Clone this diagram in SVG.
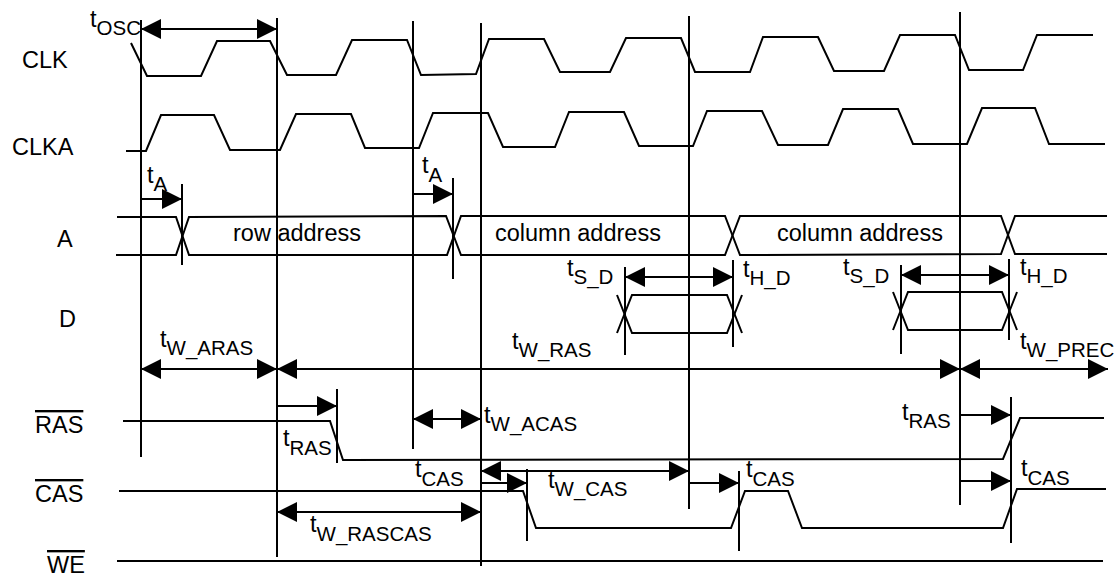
<svg xmlns="http://www.w3.org/2000/svg" width="1119" height="576" viewBox="0 0 1119 576">
<style>
.s{fill:none;stroke:#000;stroke-width:2;stroke-linejoin:miter}
.v{stroke:#000;stroke-width:2}
.a{stroke:#000;stroke-width:2;fill:none}
.ab{marker-start:url(#ah);marker-end:url(#ah)}
.ae{marker-end:url(#ah)}
text{font-family:"Liberation Sans",Arial,sans-serif;font-size:23.5px;fill:#000}
.sub{font-size:20.5px}
</style>
<defs>
<marker id="ah" markerUnits="userSpaceOnUse" markerWidth="20" markerHeight="20" refX="20" refY="10" orient="auto-start-reverse" viewBox="0 0 20 20">
<path d="M0,0 L20,10 L0,20 z" fill="#000"/>
</marker>
</defs>
<rect width="1119" height="576" fill="#fff"/>

<g id="labels">
<text x="22" y="68">CLK</text>
<text x="12" y="155">CLKA</text>
<text x="57" y="247">A</text>
<text x="59" y="327">D</text>
<text x="35" y="433" text-decoration="overline">RAS</text>
<text x="35" y="502" text-decoration="overline">CAS</text>
<text x="47" y="573" text-decoration="overline">WE</text>
</g>

<g id="sig-clk">
<polyline class="s" points="131,43 147,76 201,76 217,41 270,41 287,75 336,75 352,40 407,40 421,75 476,74 489,39 544,39 560,72 610,72 626,38 681,38 695,72 750,72 763,37 818,37 834,71 884,71 900,35 955,35 969,70 1023,70 1037,35 1093,35"/>
</g>
<g id="sig-clka">
<polyline class="s" points="126,151 146,151 161,115 214,115 230,150 280,150 296,114 351,114 365,148 419,148 433,113 488,113 503,147 555,147 569,112 624,112 639,146 693,146 707,111 762,111 778,145 828,145 843,109 898,109 913,144 967,144 982,108 1035,108 1049,144 1105,144"/>
</g>
<g id="sig-a">
<polyline class="s" points="117,217 176,217 189,255 447,255 461,216 725,216 740,255 1001,254 1015,216 1107,216"/>
<polyline class="s" points="116,255 176,255 189,217 446,216 461,255 725,255 740,216 1001,216 1015,254 1107,254"/>
<text x="233" y="241">row address</text>
<text x="495" y="241">column address</text>
<text x="777" y="241">column address</text>
</g>
<g id="sig-d">
<polyline class="s" points="617,295 632,333 727,333 742,295"/>
<polyline class="s" points="617,333 632,295 727,295 742,333"/>
<polyline class="s" points="893,292 908,330 1002,330 1017,292"/>
<polyline class="s" points="893,330 908,292 1002,292 1017,330"/>
</g>
<g id="sig-ras">
<polyline class="s" points="123,421 330,421 343,460 1003,459 1020,418 1104,418"/>
</g>
<g id="sig-cas">
<polyline class="s" points="119,491 523,491 536,528 731,528 745,491 788,491 802,528 1003,528 1017,489 1106,489"/>
</g>
<g id="sig-we">
<line class="s" x1="117" y1="561" x2="1103" y2="561"/>
</g>

<g id="refs">
<line class="v" x1="141" y1="20" x2="141" y2="457"/>
<line class="v" x1="277" y1="18" x2="277" y2="557"/>
<line class="v" x1="413" y1="21" x2="413" y2="449"/>
<line class="v" x1="481" y1="23" x2="481" y2="566"/>
<line class="v" x1="689" y1="16" x2="689" y2="509"/>
<line class="v" x1="960" y1="12" x2="960" y2="505"/>
<line class="v" x1="182" y1="184" x2="182" y2="265"/>
<line class="v" x1="453" y1="178" x2="453" y2="279"/>
<line class="v" x1="625" y1="267" x2="625" y2="355"/>
<line class="v" x1="733" y1="260" x2="733" y2="347"/>
<line class="v" x1="901" y1="265" x2="901" y2="354"/>
<line class="v" x1="1009" y1="259" x2="1009" y2="340"/>
<line class="v" x1="337" y1="389" x2="337" y2="463"/>
<line class="v" x1="527" y1="469" x2="527" y2="541"/>
<line class="v" x1="739" y1="471" x2="739" y2="551"/>
<line class="v" x1="1011" y1="397" x2="1011" y2="543"/>
</g>

<g id="connectors">
<line class="a ab" x1="141" y1="29" x2="277" y2="29"/>
<line class="a ae" x1="141" y1="199" x2="182" y2="199"/>
<line class="a ae" x1="413" y1="194" x2="453" y2="194"/>
<line class="a ab" x1="625" y1="277" x2="733" y2="277"/>
<line class="a ab" x1="901" y1="275" x2="1009" y2="275"/>
<line class="a ab" x1="141" y1="369" x2="277" y2="369"/>
<line class="a ab" x1="277" y1="369" x2="960" y2="369"/>
<line class="a ab" x1="960" y1="369" x2="1108" y2="369"/>
<line class="a ae" x1="277" y1="406" x2="337" y2="406"/>
<line class="a ab" x1="413" y1="419" x2="481" y2="419"/>
<line class="a ae" x1="481" y1="483" x2="527" y2="483"/>
<line class="a ab" x1="481" y1="471" x2="689" y2="471"/>
<line class="a ae" x1="689" y1="483" x2="739" y2="483"/>
<line class="a ab" x1="277" y1="512" x2="481" y2="512"/>
<line class="a ae" x1="960" y1="415" x2="1011" y2="415"/>
<line class="a ae" x1="960" y1="481" x2="1011" y2="481"/>
</g>

<g id="timing-labels">
<text x="90" y="27">t<tspan class="sub" dy="8">OSC</tspan></text>
<text x="147" y="183">t<tspan class="sub" dy="8">A</tspan></text>
<text x="422" y="173">t<tspan class="sub" dy="9">A</tspan></text>
<text x="567" y="276">t<tspan class="sub" dy="8">S_D</tspan></text>
<text x="743" y="277">t<tspan class="sub" dy="8">H_D</tspan></text>
<text x="843" y="275">t<tspan class="sub" dy="8">S_D</tspan></text>
<text x="1020" y="275">t<tspan class="sub" dy="8">H_D</tspan></text>
<text x="160" y="347">t<tspan class="sub" dy="8">W_ARAS</tspan></text>
<text x="512" y="349">t<tspan class="sub" dy="8">W_RAS</tspan></text>
<text x="1020" y="349">t<tspan class="sub" dy="8">W_PREC</tspan></text>
<text x="283" y="446">t<tspan class="sub" dy="9">RAS</tspan></text>
<text x="484" y="423">t<tspan class="sub" dy="8">W_ACAS</tspan></text>
<text x="415" y="477">t<tspan class="sub" dy="9">CAS</tspan></text>
<text x="548" y="488">t<tspan class="sub" dy="8">W_CAS</tspan></text>
<text x="746" y="477">t<tspan class="sub" dy="9">CAS</tspan></text>
<text x="310" y="532">t<tspan class="sub" dy="9">W_RASCAS</tspan></text>
<text x="902" y="420">t<tspan class="sub" dy="8">RAS</tspan></text>
<text x="1021" y="476">t<tspan class="sub" dy="9">CAS</tspan></text>
</g>
</svg>
